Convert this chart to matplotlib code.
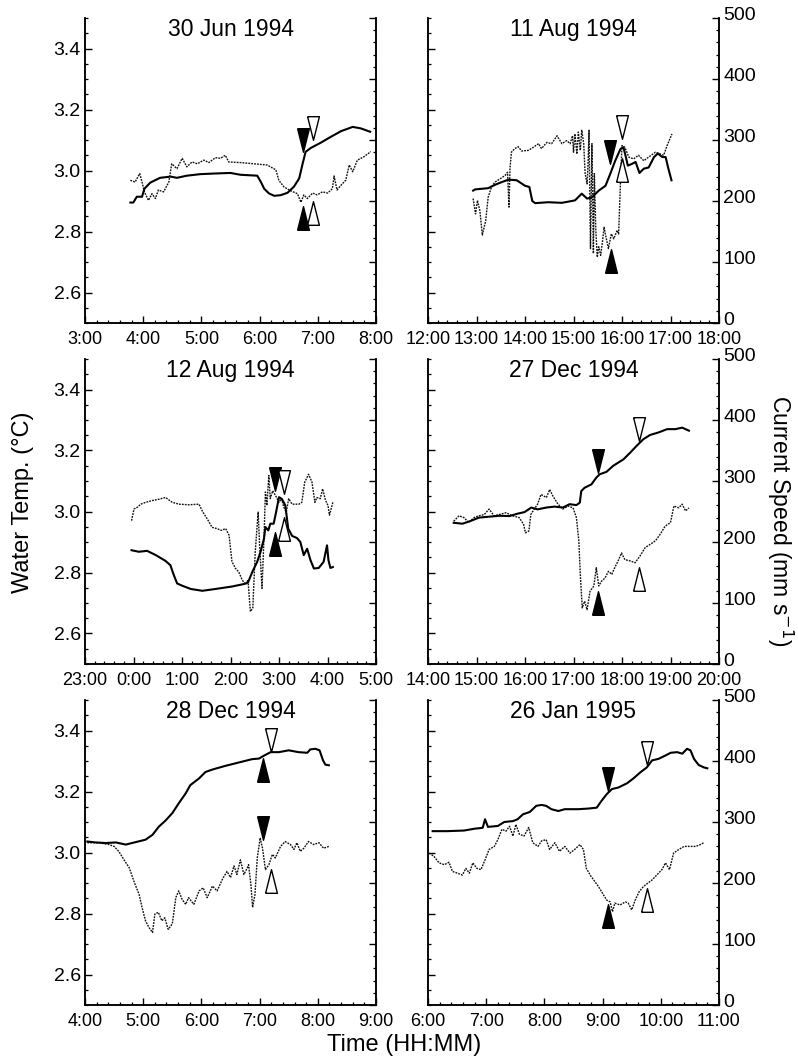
import matplotlib
matplotlib.use("Agg")
import matplotlib.pyplot as plt
from matplotlib.ticker import MultipleLocator, FuncFormatter
from matplotlib.transforms import ScaledTranslation

plt.rcParams['font.family'] = ['Liberation Sans', 'DejaVu Sans']

# ---- data (time in decimal hours, temp in degC, speed in mm/s) ----
titles = ['30 Jun 1994', '11 Aug 1994', '12 Aug 1994',
          '27 Dec 1994', '28 Dec 1994', '26 Jan 1995']
x_start = [3, 12, -1, 14, 4, 6]   # each axis spans 5 or 6 hours
x_end = [8, 18, 5, 20, 9, 11]

# 30 Jun 1994
jun30_tt = [3.78, 3.83, 3.89, 3.98, 4.02, 4.12, 4.29, 4.47, 4.58, 4.75, 4.98, 5.21, 5.50, 5.67,
            5.96, 6.02, 6.08, 6.16, 6.25, 6.36, 6.48, 6.59, 6.68, 6.74, 6.79, 6.88, 7.05, 7.22,
            7.40, 7.60, 7.74, 7.90]
jun30_temp = [2.895, 2.895, 2.914, 2.914, 2.94, 2.96, 2.976, 2.98, 2.976, 2.983, 2.988, 2.99,
              2.992, 2.986, 2.983, 2.963, 2.94, 2.925, 2.917, 2.919, 2.927, 2.947, 2.974, 3.023,
              3.061, 3.074, 3.091, 3.11, 3.129, 3.143, 3.138, 3.127]
jun30_ts = [3.78, 3.86, 3.94, 3.98, 4.02, 4.09, 4.15, 4.21, 4.26, 4.35, 4.44, 4.49, 4.58, 4.67,
            4.75, 4.84, 4.93, 5.04, 5.13, 5.24, 5.33, 5.41, 5.47, 5.67, 5.90, 6.13, 6.28, 6.33,
            6.42, 6.53, 6.65, 6.71, 6.76, 6.82, 6.91, 6.99, 7.08, 7.17, 7.25, 7.28, 7.33, 7.40,
            7.48, 7.54, 7.60, 7.68, 7.80, 7.91]
jun30_speed = [234, 231, 245, 231, 215, 201, 212, 204, 218, 215, 231, 261, 253, 270, 256, 264,
               261, 267, 263, 271, 270, 275, 264, 263, 261, 259, 251, 234, 223, 217, 212, 198,
               210, 204, 213, 210, 215, 213, 220, 241, 218, 226, 234, 259, 248, 267, 273, 281]

# 11 Aug 1994
aug11_tt = [12.93, 12.97, 13.24, 13.38, 13.52, 13.66, 13.83, 14.0, 14.09, 14.15, 14.21, 14.48,
            14.76, 15.03, 15.17, 15.28, 15.38, 15.52, 15.66, 15.76, 15.86, 15.97, 16.03, 16.08,
            16.12, 16.21, 16.28, 16.36, 16.45, 16.55, 16.66, 16.74, 16.83, 16.90, 16.95, 17.02]
aug11_temp = [2.934, 2.938, 2.942, 2.953, 2.962, 2.97, 2.968, 2.95, 2.946, 2.90, 2.893, 2.896,
              2.894, 2.902, 2.924, 2.908, 2.912, 2.934, 2.95, 2.99, 3.032, 3.071, 3.076, 3.044,
              3.016, 3.022, 3.028, 2.992, 3.006, 3.01, 3.044, 3.056, 3.044, 3.044, 3.01, 2.968]
aug11_ts = [12.93, 12.98, 13.02, 13.07, 13.12, 13.19, 13.24, 13.31, 13.38, 13.48, 13.59, 13.64,
            13.67, 13.69, 13.72, 13.79, 13.86, 13.93, 14.07, 14.17, 14.28, 14.34, 14.45, 14.55,
            14.66, 14.76, 14.86, 14.93, 14.98, 15.0, 15.03, 15.07, 15.10, 15.14, 15.17, 15.21,
            15.24, 15.28, 15.30, 15.32, 15.35, 15.38, 15.41, 15.43, 15.46, 15.49, 15.52, 15.56,
            15.60, 15.63, 15.67, 15.72, 15.78, 15.83, 15.90, 15.93, 15.97, 16.0, 16.06, 16.14,
            16.24, 16.34, 16.45, 16.55, 16.69, 16.79, 16.86, 16.93, 17.03]
aug11_speed = [204, 179, 201, 184, 144, 168, 206, 223, 231, 236, 242, 247, 190, 253, 280, 286,
               289, 282, 283, 288, 294, 286, 296, 294, 307, 294, 299, 294, 307, 280, 310, 277,
               313, 283, 316, 294, 245, 228, 261, 316, 122, 294, 114, 245, 152, 108, 125, 111,
               135, 157, 141, 122, 146, 138, 152, 146, 234, 291, 288, 272, 269, 275, 266, 272,
               280, 277, 275, 291, 310]

# 12 Aug 1994 (starts 23:00 on the day before)
aug12_tt = [-0.04, 0.11, 0.28, 0.46, 0.66, 0.76, 0.83, 0.90, 1.0, 1.18, 1.42, 1.69, 2.03, 2.27,
            2.36, 2.45, 2.55, 2.62, 2.69, 2.72, 2.78, 2.82, 2.89, 2.94, 3.0, 3.06, 3.13, 3.19,
            3.27, 3.37, 3.44, 3.51, 3.58, 3.65, 3.72, 3.82, 3.92, 3.99, 4.02, 4.06, 4.11]
aug12_temp = [2.873, 2.868, 2.871, 2.857, 2.838, 2.824, 2.792, 2.764, 2.757, 2.746, 2.74, 2.746,
              2.754, 2.762, 2.767, 2.802, 2.835, 2.868, 2.911, 2.949, 2.938, 2.96, 2.96, 2.998,
              3.047, 3.041, 3.02, 2.944, 2.92, 2.913, 2.9, 2.857, 2.878, 2.84, 2.813, 2.815,
              2.835, 2.889, 2.84, 2.815, 2.818]
aug12_ts = [-0.04, 0.01, 0.08, 0.15, 0.25, 0.39, 0.52, 0.66, 0.80, 0.94, 1.14, 1.35, 1.43, 1.52,
            1.62, 1.72, 1.81, 1.90, 1.97, 2.03, 2.10, 2.17, 2.24, 2.31, 2.36, 2.41, 2.46, 2.51,
            2.57, 2.60, 2.65, 2.69, 2.72, 2.75, 2.79, 2.82, 2.87, 2.93, 3.0, 3.05, 3.10, 3.15,
            3.20, 3.27, 3.41, 3.47, 3.53, 3.61, 3.68, 3.74, 3.78, 3.85, 3.90, 3.96, 4.01, 4.04,
            4.11]
aug12_speed = [235, 254, 257, 262, 265, 268, 270, 273, 265, 262, 261, 262, 249, 238, 224, 222,
               219, 222, 211, 168, 157, 151, 138, 130, 138, 86, 92, 184, 249, 195, 124, 206,
               282, 260, 309, 271, 284, 276, 265, 271, 257, 249, 271, 262, 262, 265, 298, 311,
               298, 265, 273, 271, 287, 268, 260, 244, 265]

# 27 Dec 1994
dec27_tt = [14.53, 14.71, 14.88, 15.05, 15.26, 15.47, 15.68, 15.85, 15.99, 16.13, 16.26, 16.44,
            16.61, 16.78, 16.92, 17.06, 17.13, 17.16, 17.23, 17.37, 17.47, 17.54, 17.68, 17.82,
            17.92, 18.03, 18.17, 18.30, 18.44, 18.58, 18.75, 18.93, 19.10, 19.24, 19.38]
dec27_temp = [2.963, 2.96, 2.969, 2.98, 2.983, 2.986, 2.985, 2.993, 2.998, 3.013, 3.007, 3.013,
              3.016, 3.013, 3.024, 3.021, 3.029, 3.067, 3.078, 3.089, 3.111, 3.122, 3.13, 3.15,
              3.16, 3.171, 3.193, 3.215, 3.237, 3.251, 3.259, 3.27, 3.27, 3.275, 3.265]
dec27_ts = [14.53, 14.64, 14.74, 14.84, 14.95, 15.05, 15.16, 15.26, 15.36, 15.47, 15.61, 15.74,
            15.88, 15.97, 16.01, 16.08, 16.12, 16.19, 16.26, 16.33, 16.44, 16.51, 16.57, 16.68,
            16.78, 16.89, 16.99, 17.06, 17.11, 17.14, 17.18, 17.23, 17.28, 17.34, 17.42, 17.47,
            17.52, 17.58, 17.65, 17.72, 17.79, 17.85, 17.92, 17.99, 18.06, 18.17, 18.27, 18.37,
            18.48, 18.58, 18.69, 18.79, 18.89, 19.0, 19.07, 19.17, 19.24, 19.31, 19.38]
dec27_speed = [234, 243, 240, 232, 240, 243, 245, 254, 243, 245, 248, 243, 240, 229, 215, 218,
               245, 254, 262, 278, 273, 286, 276, 262, 254, 259, 256, 240, 202, 147, 92, 103,
               89, 119, 128, 158, 128, 136, 141, 152, 147, 158, 169, 182, 171, 169, 166, 177,
               191, 196, 202, 213, 226, 232, 259, 256, 262, 251, 256]

# 28 Dec 1994
dec28_tt = [4.04, 4.18, 4.36, 4.53, 4.70, 4.87, 5.04, 5.16, 5.27, 5.38, 5.50, 5.61, 5.73, 5.81,
            5.96, 6.07, 6.19, 6.41, 6.64, 6.87, 6.99, 7.07, 7.19, 7.33, 7.50, 7.67, 7.82, 7.87,
            7.96, 8.03, 8.09, 8.13, 8.19]
dec28_temp = [3.036, 3.033, 3.031, 3.033, 3.026, 3.034, 3.042, 3.058, 3.085, 3.104, 3.129,
              3.161, 3.194, 3.221, 3.243, 3.264, 3.272, 3.284, 3.295, 3.306, 3.308, 3.317,
              3.329, 3.329, 3.335, 3.329, 3.327, 3.338, 3.34, 3.335, 3.302, 3.288, 3.286]
dec28_ts = [4.04, 4.24, 4.41, 4.50, 4.58, 4.67, 4.76, 4.84, 4.93, 4.98, 5.04, 5.10, 5.16, 5.20,
            5.26, 5.32, 5.37, 5.43, 5.50, 5.56, 5.61, 5.67, 5.73, 5.78, 5.87, 5.96, 6.03, 6.10,
            6.19, 6.27, 6.36, 6.44, 6.50, 6.56, 6.61, 6.67, 6.73, 6.79, 6.81, 6.85, 6.88, 6.92,
            6.96, 7.01, 7.05, 7.10, 7.16, 7.22, 7.27, 7.36, 7.44, 7.53, 7.59, 7.64, 7.70, 7.76,
            7.84, 7.93, 8.02, 8.10, 8.19]
dec28_speed = [266, 266, 263, 260, 252, 238, 225, 203, 181, 160, 138, 127, 119, 149, 152, 138,
               143, 124, 133, 176, 187, 173, 165, 176, 165, 187, 192, 176, 195, 187, 206, 219,
               209, 228, 214, 238, 214, 225, 230, 198, 160, 181, 241, 274, 257, 222, 230, 247,
               241, 260, 268, 263, 255, 266, 252, 257, 268, 263, 266, 257, 260]

# 26 Jan 1995
jan26_tt = [6.08, 6.33, 6.62, 6.80, 6.94, 6.98, 7.03, 7.20, 7.31, 7.46, 7.54, 7.63, 7.75, 7.86,
            7.95, 8.03, 8.12, 8.24, 8.35, 8.58, 8.75, 8.90, 8.98, 9.07, 9.16, 9.27, 9.42, 9.53,
            9.65, 9.76, 9.85, 9.96, 10.08, 10.17, 10.28, 10.37, 10.45, 10.51, 10.57, 10.65,
            10.74, 10.80]
jan26_temp = [3.07, 3.07, 3.072, 3.078, 3.081, 3.109, 3.084, 3.087, 3.10, 3.103, 3.109, 3.125,
              3.133, 3.153, 3.156, 3.153, 3.142, 3.136, 3.142, 3.142, 3.144, 3.147, 3.169, 3.191,
              3.208, 3.213, 3.227, 3.243, 3.263, 3.279, 3.302, 3.307, 3.318, 3.327, 3.329, 3.324,
              3.34, 3.335, 3.307, 3.287, 3.279, 3.276]
jan26_ts = [6.02, 6.10, 6.19, 6.28, 6.36, 6.42, 6.51, 6.59, 6.65, 6.71, 6.77, 6.84, 6.91, 6.98,
            7.05, 7.14, 7.20, 7.27, 7.34, 7.40, 7.46, 7.51, 7.57, 7.65, 7.73, 7.80, 7.89, 7.95,
            8.03, 8.09, 8.18, 8.26, 8.35, 8.44, 8.52, 8.61, 8.67, 8.72, 8.80, 8.87, 8.93, 9.00,
            9.07, 9.13, 9.17, 9.21, 9.30, 9.39, 9.44, 9.50, 9.56, 9.63, 9.70, 9.78, 9.85, 9.93,
            10.02, 10.08, 10.15, 10.22, 10.31, 10.40, 10.48, 10.60, 10.68, 10.74]
jan26_speed = [249, 244, 233, 230, 234, 219, 216, 213, 224, 216, 233, 224, 222, 238, 255, 260,
               271, 288, 285, 293, 277, 296, 280, 277, 291, 266, 260, 269, 271, 255, 266, 252,
               260, 249, 255, 263, 255, 224, 211, 202, 194, 183, 172, 169, 153, 167, 164, 169,
               167, 156, 172, 186, 194, 200, 205, 213, 222, 233, 222, 249, 255, 260, 260, 260,
               263, 266]

# event arrows per panel: time, level (degC), direction, filled
mark_t = [[6.74, 6.91, 6.74, 6.92], [15.76, 16.01, 16.01, 15.77], [2.91, 3.10, 3.10, 2.92],
          [17.51, 18.36, 17.51, 18.36], [7.20, 7.06, 7.06, 7.20], [9.09, 9.76, 9.09, 9.76]]
mark_y = [[3.099, 3.138, 2.843, 2.861], [3.06, 3.142, 3.002, 2.702], [3.106, 3.098, 2.944, 2.895],
          [3.164, 3.272, 2.70, 2.78], [3.37, 3.27, 3.08, 2.906], [3.24, 3.327, 2.792, 2.844]]
mark_dir = [['v', 'v', '^', '^'], ['v', 'v', '^', '^'], ['v', 'v', '^', '^'],
            ['v', 'v', '^', '^'], ['v', '^', 'v', '^'], ['v', 'v', '^', '^']]
mark_fill = [[True, False, True, False], [True, False, False, True], [True, False, False, True],
             [True, False, True, False], [False, True, True, False], [True, False, True, False]]

temp_t = [jun30_tt, aug11_tt, aug12_tt, dec27_tt, dec28_tt, jan26_tt]
temp_v = [jun30_temp, aug11_temp, aug12_temp, dec27_temp, dec28_temp, jan26_temp]
speed_t = [jun30_ts, aug11_ts, aug12_ts, dec27_ts, dec28_ts, jan26_ts]
speed_v = [jun30_speed, aug11_speed, aug12_speed, dec27_speed, dec28_speed, jan26_speed]

# tall narrow triangles
tri_down = [(-0.25, 0.5), (0.25, 0.5), (0, -0.5), (-0.25, 0.5)]
tri_up = [(-0.25, -0.5), (0.25, -0.5), (0, 0.5), (-0.25, -0.5)]

fig = plt.figure(figsize=(7.98, 10.6), dpi=100)

W, H = 798, 1060
col_left = [85, 428]
row_top = [18, 359, 700]
pw, ph = 291, 305

hour_fmt = FuncFormatter(lambda v, p: '%d:00' % (int(round(v)) % 24))
lift = ScaledTranslation(0, 3 / 72, fig.dpi_scale_trans)   # right-hand labels sit a bit high

for i in range(6):
    r, c = divmod(i, 2)
    rect = [col_left[c] / W, 1 - (row_top[r] + ph) / H, pw / W, ph / H]
    ax = fig.add_axes(rect)
    ax2 = ax.twinx()
    ax.set_zorder(ax2.get_zorder() + 1)
    ax.patch.set_visible(False)

    ax2.plot(speed_t[i], speed_v[i], color='#111111', lw=1.0, linestyle=(0, (1.3, 0.8)))
    ax.plot(temp_t[i], temp_v[i], color='black', lw=1.5)

    for t, y, d, f in zip(mark_t[i], mark_y[i], mark_dir[i], mark_fill[i]):
        ax.plot([t], [y], marker=tri_down if d == 'v' else tri_up, markersize=17,
                markerfacecolor='black' if f else 'white', markeredgecolor='black',
                markeredgewidth=1.0, linestyle='none', zorder=5)

    ax.set_xlim(x_start[i], x_end[i])
    ax.set_ylim(2.5, 3.5)
    ax2.set_ylim(0, 500)

    ax.xaxis.set_major_locator(MultipleLocator(1))
    ax.xaxis.set_minor_locator(MultipleLocator(0.2))
    ax.xaxis.set_major_formatter(hour_fmt)
    ax.yaxis.set_major_locator(MultipleLocator(0.2))
    ax.yaxis.set_minor_locator(MultipleLocator(0.05))
    ax.yaxis.set_major_formatter(FuncFormatter(lambda v, p: '%.1f' % v))
    ax2.yaxis.set_major_locator(MultipleLocator(100))
    ax2.yaxis.set_minor_locator(MultipleLocator(20))

    for a in (ax, ax2):
        a.spines['top'].set_visible(False)
        for s in ('left', 'right', 'bottom'):
            a.spines[s].set_linewidth(1.1)
        a.tick_params(which='major', direction='in', length=5, width=1.0)
        a.tick_params(which='minor', direction='in', length=2.5, width=0.9)
    ax.tick_params(axis='x', labelsize=13, pad=6)
    ax.tick_params(axis='y', labelsize=14, pad=3)
    ax2.tick_params(axis='y', labelsize=14, pad=3)

    if c == 0:
        ax2.tick_params(axis='y', labelright=False)
    else:
        ax.tick_params(axis='y', labelleft=False)
        for lab in ax2.get_yticklabels():
            lab.set_transform(lab.get_transform() + lift)

    ax.text(0.5, 0.962, titles[i], transform=ax.transAxes, ha='center', va='center',
            fontsize=16.5)

fig.text(0.029, 0.526, 'Water Temp. (\u00b0C)', rotation=90, ha='center', va='center',
         fontsize=17)
fig.text(0.977, 0.509, 'Current Speed (mm s$^{-1}$)', rotation=270, ha='center', va='center',
         fontsize=16.5)
fig.text(0.506, 0.014, 'Time (HH:MM)', ha='center', va='center', fontsize=17)

fig.savefig('out.png', dpi=100)
